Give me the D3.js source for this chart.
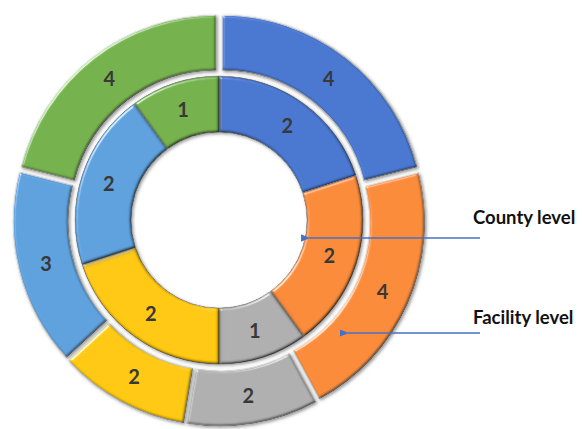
<!DOCTYPE html>
<html>
<head>
<meta charset="utf-8">
<script src="https://cdn.jsdelivr.net/npm/d3@7"></script>
<style>
  body { margin: 0; background: #fff; }
  svg { display: block; }
</style>
</head>
<body>
<script>
// ring data, clockwise from 12 o'clock
var outerValues = [4, 4, 2, 2, 3, 4];   // facility level
var innerValues = [2, 2, 1, 2, 2, 1];   // county level
var colors = ["#4677d0", "#f98a36", "#aeaeae", "#ffc800", "#5ca0dd", "#73b14a"];
var annotations = ["County level", "Facility level"];

var width = 584, height = 429;
var cx = 219, cy = 220;
var holeR = 88, innerR = 144, outerR0 = 146, outerR1 = 201, explode = 5;

var svg = d3.select("body").append("svg")
  .attr("width", width)
  .attr("height", height);

var defs = svg.append("defs");

// bevel + shadow, roughly like the office "3-D" donut style
var f = defs.append("filter").attr("id", "bevel")
  .attr("x", "-10%").attr("y", "-10%").attr("width", "120%").attr("height", "120%");
f.append("feGaussianBlur").attr("in", "SourceAlpha").attr("stdDeviation", 1.4).attr("result", "blur");
var spec = f.append("feSpecularLighting").attr("in", "blur")
  .attr("surfaceScale", 3).attr("specularConstant", 0.6)
  .attr("specularExponent", 25).attr("lighting-color", "#ffffff").attr("result", "spec");
spec.append("feDistantLight").attr("azimuth", 225).attr("elevation", 25);
f.append("feComposite").attr("in", "spec").attr("in2", "SourceAlpha").attr("operator", "in").attr("result", "specOut");
f.append("feComposite").attr("in", "SourceGraphic").attr("in2", "specOut")
  .attr("operator", "arithmetic").attr("k1", 0).attr("k2", 1).attr("k3", 1).attr("k4", 0).attr("result", "lit");
// diffuse scaled so a flat face stays at 1, the far edges go darker
var dark = f.append("feDiffuseLighting").attr("in", "blur")
  .attr("surfaceScale", 3).attr("diffuseConstant", 1 / Math.sin(Math.PI / 3)).attr("lighting-color", "#ffffff").attr("result", "diff");
dark.append("feDistantLight").attr("azimuth", 225).attr("elevation", 60);
f.append("feComposite").attr("in", "diff").attr("in2", "SourceAlpha").attr("operator", "in").attr("result", "diffOut");
f.append("feBlend").attr("in", "lit").attr("in2", "diffOut").attr("mode", "multiply").attr("result", "shaded");
f.append("feComposite").attr("in", "shaded").attr("in2", "SourceAlpha").attr("operator", "in").attr("result", "body");
f.append("feDropShadow").attr("in", "body").attr("dx", 1.5).attr("dy", 1.5)
  .attr("stdDeviation", 1.5).attr("flood-color", "#555").attr("flood-opacity", 0.6);

var pie = d3.pie().sort(null).startAngle(0).endAngle(2 * Math.PI);

var arcInner = d3.arc().innerRadius(holeR).outerRadius(innerR);
var arcOuter = d3.arc().innerRadius(outerR0).outerRadius(outerR1);

var g = svg.append("g").attr("transform", "translate(" + cx + "," + cy + ")");

// inner ring
var gi = g.append("g").attr("class", "inner");
gi.selectAll("path").data(pie(innerValues)).join("path")
  .attr("d", arcInner)
  .attr("fill", function(d, i) { return colors[i]; })
  .attr("stroke", "#555").attr("stroke-width", 0.8)
  .attr("filter", "url(#bevel)");

// outer ring, each slice pushed out a bit
function shift(d) {
  var a = (d.startAngle + d.endAngle) / 2;
  return [explode * Math.sin(a), -explode * Math.cos(a)];
}
var go = g.append("g").attr("class", "outer");
go.selectAll("path").data(pie(outerValues)).join("path")
  .attr("transform", function(d) { return "translate(" + shift(d) + ")"; })
  .attr("d", arcOuter)
  .attr("fill", function(d, i) { return colors[i]; })
  .attr("stroke", "#dcdcdc").attr("stroke-width", 1.2)
  .attr("filter", "url(#bevel)");

// value labels
function labels(sel, data, arc, off) {
  sel.selectAll("text.val").data(data).join("text")
    .attr("class", "val")
    .attr("transform", function(d) {
      var c = arc.centroid(d), s = off ? shift(d) : [0, 0];
      return "translate(" + (c[0] + s[0]) + "," + (c[1] + s[1]) + ")";
    })
    .attr("text-anchor", "middle")
    .attr("dy", "0.36em")
    .style("font-family", "Lato, 'Open Sans', sans-serif")
    .style("font-weight", "bold")
    .style("font-size", "20px")
    .style("fill", "#383838")
    .text(function(d) { return d.data; });
}
labels(gi, pie(innerValues), arcInner, false);
labels(go, pie(outerValues), arcOuter, true);

// annotation arrows
defs.append("marker").attr("id", "arrow")
  .attr("viewBox", "0 0 10 10").attr("refX", 1).attr("refY", 5)
  .attr("markerWidth", 7).attr("markerHeight", 7).attr("orient", "auto-start-reverse")
  .append("path").attr("d", "M10,1 L0,5 L10,9 z").attr("fill", "#4472c4");

var textX = 473;
var arrowRows = [
  { y: 238, r: holeR + 4, ty: 224 },
  { y: 333, r: (outerR0 + outerR1) / 2 - 2, ty: 324 }
];
arrowRows.forEach(function(row, i) {
  var dy = row.y - cy;
  var tipX = cx + Math.sqrt(row.r * row.r - dy * dy);
  svg.append("line")
    .attr("x1", tipX).attr("y1", row.y)
    .attr("x2", textX + 7).attr("y2", row.y)
    .attr("stroke", "#4472c4").attr("stroke-width", 1.3)
    .attr("marker-start", "url(#arrow)");
  svg.append("text")
    .attr("x", textX).attr("y", row.ty)
    .style("font-family", "Lato, 'Open Sans', sans-serif")
    .style("font-weight", "bold")
    .style("font-size", "18.5px")
    .style("fill", "#111")
    .text(annotations[i]);
});
</script>
</body>
</html>
